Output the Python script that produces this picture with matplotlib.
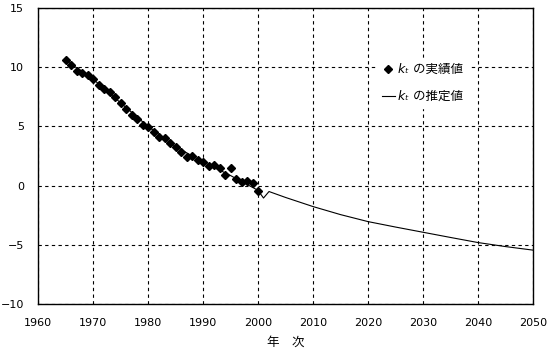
import numpy as np
from matplotlib import pyplot as plt

plt.rcParams['font.family'] = ['DejaVu Sans', 'Noto Sans CJK JP']

# 実績値 (actual k_t)
act_years = [1965, 1966, 1967, 1968, 1969, 1970, 1971, 1972, 1973, 1974,
             1975, 1976, 1977, 1978, 1979, 1980, 1981, 1982, 1983, 1984,
             1985, 1986, 1987, 1988, 1989, 1990, 1991, 1992, 1993, 1994,
             1995, 1996, 1997, 1998, 1999, 2000]
act_vals = [10.64, 10.2, 9.7, 9.55, 9.3, 9.04, 8.47, 8.17, 7.94, 7.5,
            6.95, 6.47, 6.0, 5.6, 5.12, 4.93, 4.5, 4.08, 4.03, 3.63,
            3.29, 2.87, 2.45, 2.5, 2.2, 1.97, 1.69, 1.75, 1.49, 0.93,
            1.49, 0.53, 0.31, 0.36, 0.2, -0.45]

# 推定値 (estimated k_t)
est_years = [1965, 1970, 1975, 1980, 1985, 1990, 1995, 2000, 2001, 2002,
             2005, 2010, 2015, 2020, 2025, 2030, 2035, 2040, 2045, 2050]
est_vals = [10.6, 9.0, 7.0, 5.0, 3.3, 2.0, 0.85, -0.4, -1.05, -0.5,
            -1.0, -1.77, -2.45, -3.04, -3.5, -3.94, -4.38, -4.81, -5.15, -5.45]

fig = plt.figure(figsize=(5.49, 3.51), dpi=100)
ax = fig.add_axes([38 / 549, 1 - 304 / 351, 495 / 549, 296 / 351])

ax.plot(est_years, est_vals, color='black', lw=0.8, label='kₜ の推定値', zorder=3)
ax.plot(act_years, act_vals, ls='none', marker='D', ms=3.8, color='black',
        label='kₜ の実績値', zorder=4)

ax.set_xlim(1960, 2050)
ax.set_ylim(-10, 15)
ax.set_xticks(np.arange(1960, 2051, 10))
ax.set_yticks(np.arange(-10, 16, 5))
ax.grid(True, color='black', ls=(0, (3, 3)), lw=0.8)
ax.tick_params(length=0, labelsize=8)
ax.tick_params(axis='y', pad=10)
ax.tick_params(axis='x', pad=10)
for s in ax.spines.values():
    s.set_linewidth(1.0)

ax.set_xlabel('年　次', fontsize=9, labelpad=6, family=['Noto Sans CJK JP'])

h, l = ax.get_legend_handles_labels()
leg = ax.legend(h[::-1], l[::-1], loc='upper left', bbox_to_anchor=(0.685, 0.83),
                frameon=True, fontsize=9, handlelength=1.0, handletextpad=0.3,
                borderaxespad=0, labelspacing=1.1, fancybox=False)
leg.get_frame().set_edgecolor('white')
leg.get_frame().set_facecolor('white')
leg.get_frame().set_alpha(1)
for t in leg.get_texts():
    t.set_fontstyle('italic')

fig.savefig('out.png', dpi=100)
